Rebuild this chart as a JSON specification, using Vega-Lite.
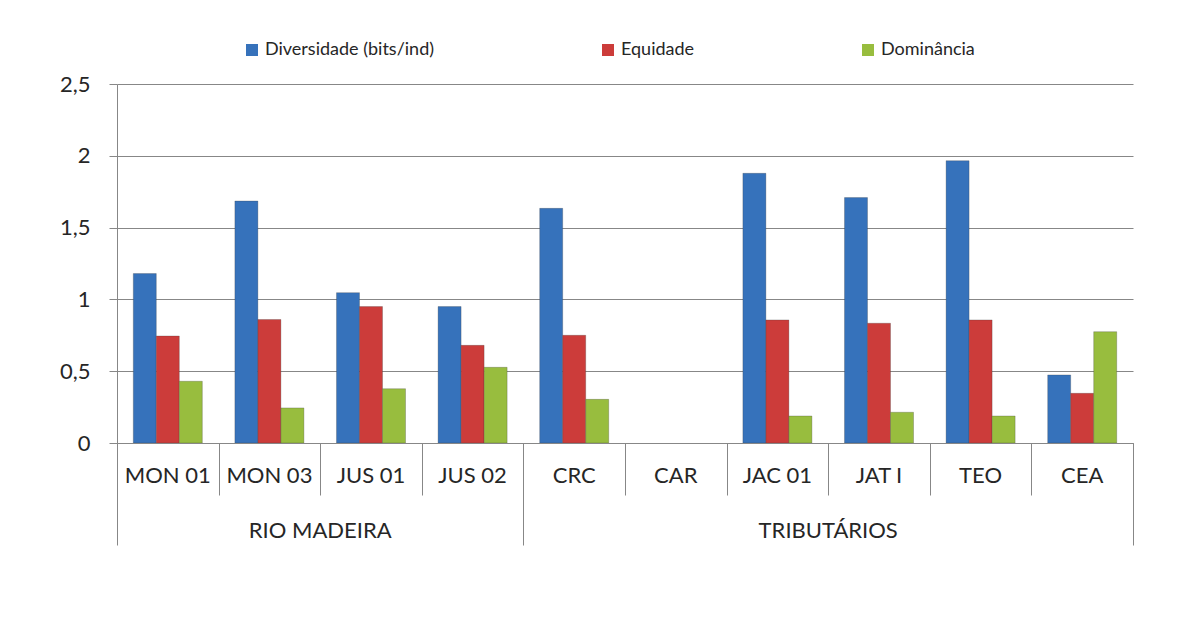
{
  "$schema": "https://vega.github.io/schema/vega-lite/v6.json",
  "autosize": "none",
  "width": 1016,
  "height": 359,
  "padding": {"left": 117, "top": 84, "right": 47, "bottom": 181},
  "background": "white",
  "config": {
    "font": "Lato",
    "view": {"stroke": null},
    "axis": {"labelFont": "Lato", "labelColor": "#262626", "domainColor": "#878787", "tickColor": "#878787", "gridColor": "#878787"},
    "legend": {"labelFont": "Lato"}
  },
  "data": {
    "values": [
      {"site": "MON 01", "grupo": "RIO MADEIRA", "serie": "Diversidade (bits/ind)", "valor": 1.18},
      {"site": "MON 01", "grupo": "RIO MADEIRA", "serie": "Equidade", "valor": 0.745},
      {"site": "MON 01", "grupo": "RIO MADEIRA", "serie": "Dominância", "valor": 0.43},
      {"site": "MON 03", "grupo": "RIO MADEIRA", "serie": "Diversidade (bits/ind)", "valor": 1.685},
      {"site": "MON 03", "grupo": "RIO MADEIRA", "serie": "Equidade", "valor": 0.86},
      {"site": "MON 03", "grupo": "RIO MADEIRA", "serie": "Dominância", "valor": 0.244},
      {"site": "JUS 01", "grupo": "RIO MADEIRA", "serie": "Diversidade (bits/ind)", "valor": 1.047},
      {"site": "JUS 01", "grupo": "RIO MADEIRA", "serie": "Equidade", "valor": 0.95},
      {"site": "JUS 01", "grupo": "RIO MADEIRA", "serie": "Dominância", "valor": 0.378},
      {"site": "JUS 02", "grupo": "RIO MADEIRA", "serie": "Diversidade (bits/ind)", "valor": 0.95},
      {"site": "JUS 02", "grupo": "RIO MADEIRA", "serie": "Equidade", "valor": 0.68},
      {"site": "JUS 02", "grupo": "RIO MADEIRA", "serie": "Dominância", "valor": 0.527},
      {"site": "CRC", "grupo": "TRIBUTÁRIOS", "serie": "Diversidade (bits/ind)", "valor": 1.634},
      {"site": "CRC", "grupo": "TRIBUTÁRIOS", "serie": "Equidade", "valor": 0.75},
      {"site": "CRC", "grupo": "TRIBUTÁRIOS", "serie": "Dominância", "valor": 0.304},
      {"site": "JAC 01", "grupo": "TRIBUTÁRIOS", "serie": "Diversidade (bits/ind)", "valor": 1.878},
      {"site": "JAC 01", "grupo": "TRIBUTÁRIOS", "serie": "Equidade", "valor": 0.857},
      {"site": "JAC 01", "grupo": "TRIBUTÁRIOS", "serie": "Dominância", "valor": 0.188},
      {"site": "JAT I", "grupo": "TRIBUTÁRIOS", "serie": "Diversidade (bits/ind)", "valor": 1.709},
      {"site": "JAT I", "grupo": "TRIBUTÁRIOS", "serie": "Equidade", "valor": 0.834},
      {"site": "JAT I", "grupo": "TRIBUTÁRIOS", "serie": "Dominância", "valor": 0.214},
      {"site": "TEO", "grupo": "TRIBUTÁRIOS", "serie": "Diversidade (bits/ind)", "valor": 1.966},
      {"site": "TEO", "grupo": "TRIBUTÁRIOS", "serie": "Equidade", "valor": 0.857},
      {"site": "TEO", "grupo": "TRIBUTÁRIOS", "serie": "Dominância", "valor": 0.188},
      {"site": "CEA", "grupo": "TRIBUTÁRIOS", "serie": "Diversidade (bits/ind)", "valor": 0.474},
      {"site": "CEA", "grupo": "TRIBUTÁRIOS", "serie": "Equidade", "valor": 0.346},
      {"site": "CEA", "grupo": "TRIBUTÁRIOS", "serie": "Dominância", "valor": 0.775}
    ]
  },
  "resolve": {"axis": {"x": "independent"}},
  "layer": [
    {
      "mark": {"type": "bar", "stroke": "#3a3a3a", "strokeOpacity": 0.35, "strokeWidth": 0.8},
      "encoding": {
        "x": {
          "field": "site", "type": "nominal",
          "scale": {"domain": ["MON 01", "MON 03", "JUS 01", "JUS 02", "CRC", "CAR", "JAC 01", "JAT I", "TEO", "CEA"], "paddingInner": 0, "paddingOuter": 0},
          "axis": {"orient": "bottom", "title": null, "ticks": false, "tickSize": 0, "labelAngle": 0, "labelFontSize": 22, "labelPadding": 22, "domain": true, "domainColor": "#878787", "grid": false, "zindex": 1}
        },
        "xOffset": {
          "field": "serie", "type": "nominal",
          "scale": {"domain": ["Diversidade (bits/ind)", "Equidade", "Dominância"], "paddingInner": 0, "paddingOuter": 0.708}
        },
        "y": {
          "field": "valor", "type": "quantitative",
          "scale": {"domain": [0, 2.5], "nice": false},
          "axis": {"title": null, "values": [0, 0.5, 1, 1.5, 2, 2.5], "grid": true, "gridColor": "#878787", "gridWidth": 1, "tickSize": 8, "labelPadding": 19, "labelFontSize": 22, "labelExpr": "replace(toString(datum.value), '.', ',')", "domainColor": "#878787", "zindex": 0}
        },
        "color": {
          "field": "serie", "type": "nominal",
          "scale": {"domain": ["Diversidade (bits/ind)", "Equidade", "Dominância"], "range": ["#3672bb", "#cc3c3a", "#98bd3e"]},
          "legend": {"title": null, "orient": "none", "direction": "horizontal", "legendX": 126, "legendY": -43, "symbolType": "square", "symbolSize": 144, "symbolStrokeWidth": 0, "labelFontSize": 18, "labelLimit": 400, "labelColor": "#262626", "labelOffset": 4, "columnPadding": 164}
        }
      }
    },
    {
      "mark": {"type": "text", "text": ""},
      "encoding": {
        "x": {
          "field": "site", "type": "nominal",
          "scale": {"domain": ["MON 01", "MON 03", "JUS 01", "JUS 02", "CRC", "CAR", "JAC 01", "JAT I", "TEO", "CEA"], "paddingInner": 0, "paddingOuter": 0},
          "axis": {"orient": "bottom", "title": null, "labels": false, "domain": false, "ticks": true, "tickBand": "extent", "tickSize": 52, "tickColor": "#878787", "grid": false}
        }
      }
    },
    {
      "mark": {"type": "text", "text": ""},
      "encoding": {
        "x": {
          "field": "site", "type": "nominal",
          "scale": {"domain": ["MON 01", "MON 03", "JUS 01", "JUS 02", "CRC", "CAR", "JAC 01", "JAT I", "TEO", "CEA"], "paddingInner": 0, "paddingOuter": 0},
          "axis": {"orient": "bottom", "title": null, "labels": false, "domain": false, "ticks": true, "values": ["JUS 02", "CEA"], "bandPosition": 1, "tickExtra": false, "tickSize": 102, "tickColor": "#878787", "grid": false}
        }
      }
    },
    {
      "mark": {"type": "text", "text": ""},
      "encoding": {
        "x": {
          "field": "site", "type": "nominal",
          "scale": {"domain": ["MON 01", "MON 03", "JUS 01", "JUS 02", "CRC", "CAR", "JAC 01", "JAT I", "TEO", "CEA"], "paddingInner": 0, "paddingOuter": 0},
          "axis": {"orient": "bottom", "title": null, "labels": false, "domain": false, "ticks": true, "values": ["MON 01"], "bandPosition": 0, "tickExtra": false, "tickSize": 102, "tickColor": "#878787", "grid": false}
        }
      }
    },
    {
      "mark": {"type": "text", "text": ""},
      "encoding": {
        "x": {
          "field": "site", "type": "nominal",
          "scale": {"domain": ["MON 01", "MON 03", "JUS 01", "JUS 02", "CRC", "CAR", "JAC 01", "JAT I", "TEO", "CEA"], "paddingInner": 0, "paddingOuter": 0},
          "axis": {"orient": "bottom", "title": null, "labels": true, "domain": false, "ticks": false, "tickSize": 0, "values": ["MON 03", "JAC 01"], "labelOffset": 50.8, "labelAngle": 0, "labelPadding": 77, "labelFontSize": 22, "labelColor": "#262626", "labelExpr": "datum.value == 'MON 03' ? 'RIO MADEIRA' : 'TRIBUTÁRIOS'", "grid": false}
        }
      }
    }
  ]
}
